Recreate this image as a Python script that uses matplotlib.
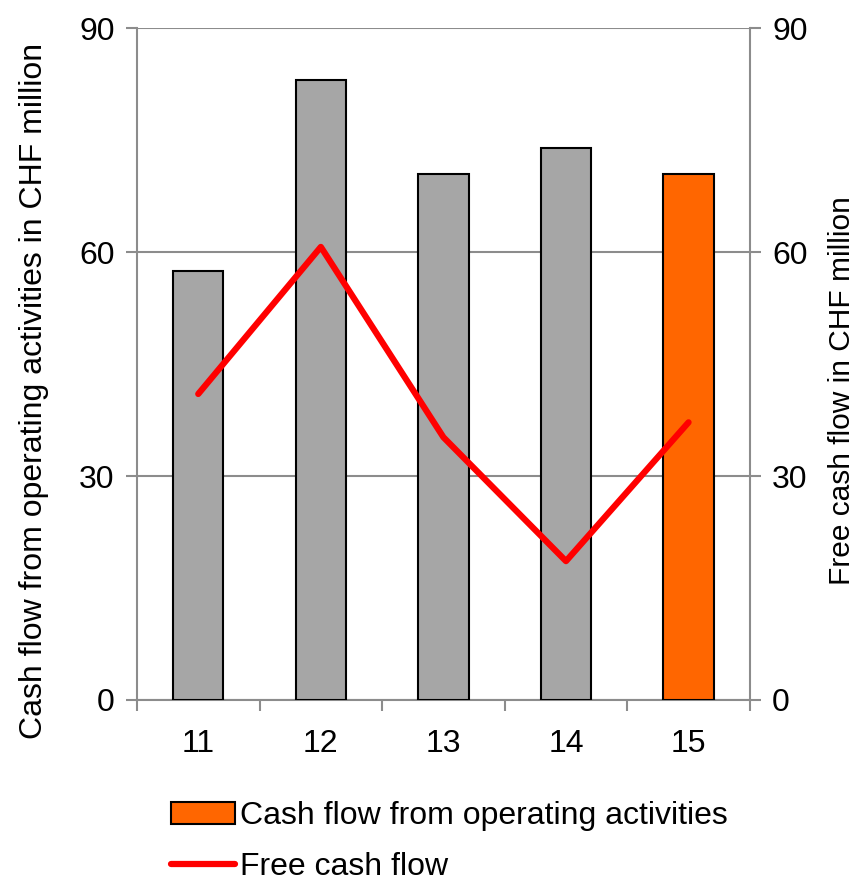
import matplotlib
matplotlib.use("Agg")
import matplotlib.pyplot as plt
from matplotlib.patches import Patch
from matplotlib.lines import Line2D

years = ["11", "12", "13", "14", "15"]
operating_cf = [57.5, 83.0, 70.5, 74.0, 70.5]
free_cf = [41.0, 60.7, 35.2, 18.6, 37.2]
bar_colors = ["#a6a6a6", "#a6a6a6", "#a6a6a6", "#a6a6a6", "#ff6600"]

plt.rcParams['font.family'] = ['Liberation Sans', 'DejaVu Sans']
FS = 23
axis_gray = "#8c8c8c"

fig = plt.figure(figsize=(8.56, 8.83), dpi=100)
ax = fig.add_axes([0.160, 0.2073, 0.716, 0.7607])
x = list(range(len(years)))

ax.bar(x, operating_cf, width=0.41, color=bar_colors, edgecolor="black",
       linewidth=1.5, zorder=3)
ax.set_xlim(-0.5, len(years) - 0.5)
ax.set_ylim(0, 90)
ax.set_yticks([0, 30, 60, 90])
ax.yaxis.grid(True, color=axis_gray, linewidth=1.5, zorder=0)
ax.set_axisbelow(True)

# category ticks at boundaries, labels at centres
ax.set_xticks([i - 0.5 for i in range(len(years) + 1)])
ax.set_xticklabels([])
ax.set_xticks(x, minor=True)
ax.set_xticklabels(years, minor=True)
ax.tick_params(axis="x", which="minor", length=0, pad=21, labelsize=FS)
ax.tick_params(axis="x", which="major", length=8, width=1.5, color=axis_gray)
ax.tick_params(axis="y", length=8, width=1.5, color=axis_gray, labelsize=FS, pad=8)

for s in ["top", "right"]:
    ax.spines[s].set_visible(False)
for s in ["left", "bottom"]:
    ax.spines[s].set_color(axis_gray)
    ax.spines[s].set_linewidth(1.5)
ax.set_ylabel("Cash flow from operating activities in CHF million", fontsize=FS,
              labelpad=22, y=0.46)

ax2 = ax.twinx()
ax2.plot(x, free_cf, color="#ff0000", linewidth=4.5, solid_capstyle="round", zorder=4)
ax2.set_ylim(0, 90)
ax2.set_yticks([0, 30, 60, 90])
ax2.tick_params(axis="y", length=8, width=1.5, color=axis_gray, labelsize=FS, pad=8)
for s in ["top", "left", "bottom"]:
    ax2.spines[s].set_visible(False)
ax2.spines["right"].set_color(axis_gray)
ax2.spines["right"].set_linewidth(1.5)
ax2.set_ylabel("Free cash flow in CHF million", fontsize=21.5, labelpad=15, y=0.46)

handles = [Patch(facecolor="#ff6600", edgecolor="black", linewidth=1.5),
           Line2D([0], [0], color="#ff0000", linewidth=4.5, solid_capstyle="round")]
fig.legend(handles, ["Cash flow from operating activities", "Free cash flow"],
           loc="upper left", bbox_to_anchor=(0.2, 0.093), frameon=False,
           fontsize=FS, handlelength=2.0, handletextpad=0.15, labelspacing=0.66,
           borderaxespad=0, borderpad=0)

fig.savefig("out.png", dpi=100)
